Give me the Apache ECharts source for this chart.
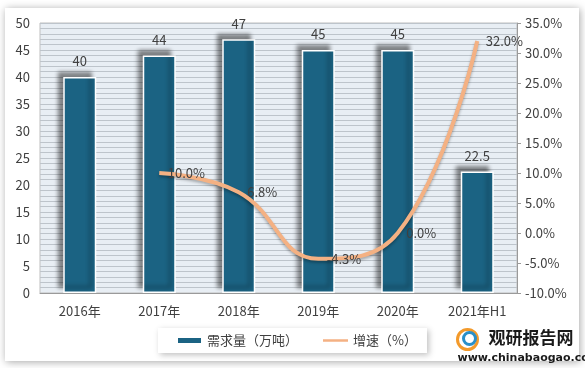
<!DOCTYPE html>
<html>
<head>
<meta charset="utf-8">
<script src="https://cdn.jsdelivr.net/npm/echarts@6/dist/echarts.min.js"></script>
<style>
html,body{margin:0;padding:0;background:#ffffff;}
#c{width:585px;height:368px;}
</style>
</head>
<body>
<div id="c"></div>
<script>
var categories = ['2016年','2017年','2018年','2019年','2020年','2021年H1'];
var demand = [40, 44, 47, 45, 45, 22.5];
var growth = [null, 10.0, 6.8, -4.3, 0.0, 32.0];
var leftTicks = {min: 0, max: 50, interval: 5};
var rightTicks = {min: -10, max: 35, interval: 5};

var chart = echarts.init(document.getElementById('c'));
var font = '"Microsoft YaHei","Noto Sans CJK SC",sans-serif';
chart.setOption({
  animation: false,
  textStyle: {fontFamily: font},
  graphic: [
    {type: 'rect', z: -10, shape: {x: 5, y: 8, width: 574, height: 353},
     style: {fill: '#ffffff', shadowBlur: 8, shadowColor: 'rgba(0,0,0,0.35)', shadowOffsetX: 1, shadowOffsetY: 1}},
    {type: 'group', left: 455, top: 327, children: [
      {type: 'circle', shape: {cx: 11, cy: 11, r: 10}, style: {fill: 'none', stroke: '#F39A2B', lineWidth: 3}},
      {type: 'circle', shape: {cx: 13, cy: 10, r: 6}, style: {fill: 'none', stroke: '#2A8FC8', lineWidth: 3}},
      {type: 'text', left: 32, top: 1, style: {text: '观研报告网', font: 'bold 17px "Noto Sans CJK SC"', fill: '#1a1a1a'}},
      {type: 'text', left: 1, top: 24, style: {text: 'www.chinabaogao.com', font: 'bold 11px "DejaVu Sans", sans-serif', fill: '#1a1a1a'}}
    ]}
  ],
  legend: {
    left: 158, top: 328, width: 250,
    padding: [6, 10, 6, 18],
    itemGap: 25,
    backgroundColor: '#ffffff',
    shadowBlur: 6, shadowColor: 'rgba(0,0,0,0.25)', shadowOffsetX: 2, shadowOffsetY: 2,
    textStyle: {fontSize: 13, color: '#404040'},
    data: [
      {name: '需求量（万吨）', icon: 'rect', itemStyle: {color: '#1B6383'}},
      {name: '增速（%）', icon: 'path://M0,4 L30,4 L30,7 L0,7 Z', itemStyle: {color: '#F4B183'}}
    ],
    itemWidth: 25, itemHeight: 7
  },
  grid: {left: 40, right: 68, top: 23, bottom: 75, show: true, backgroundColor: '#E8EEF4', borderColor: '#BFBFBF', borderWidth: 1, containLabel: false},
  xAxis: {
    type: 'category', data: categories,
    axisLine: {lineStyle: {color: '#9A9A9A'}},
    axisTick: {show: false},
    axisLabel: {color: '#404040', fontSize: 13, margin: 12}
  },
  yAxis: [
    {type: 'value', min: leftTicks.min, max: leftTicks.max, interval: leftTicks.interval, position: 'left',
     axisLine: {show: false}, axisTick: {show: false}, splitLine: {show: false},
     axisLabel: {color: '#404040', fontSize: 13, margin: 10}},
    {type: 'value', min: rightTicks.min, max: rightTicks.max, interval: rightTicks.interval, position: 'right',
     axisLine: {show: true, lineStyle: {color: '#9A9A9A'}},
     axisTick: {show: true, length: 4, lineStyle: {color: '#9A9A9A'}},
     splitLine: {show: false},
     axisLabel: {color: '#404040', fontSize: 13, margin: 8, formatter: function (v) { return v.toFixed(1) + '%'; }}},
    {type: 'value', min: 0, max: 50, interval: 1, position: 'left', z: 0,
     axisLine: {show: false}, axisTick: {show: false}, axisLabel: {show: false},
     splitLine: {show: true, lineStyle: {color: '#BDC4CB', width: 1}}}
  ],
  series: [
    {
      name: '需求量（万吨）', type: 'bar', data: demand, yAxisIndex: 0, barWidth: 33, z: 2,
      itemStyle: {color: '#1B6383', borderColor: '#ffffff', borderWidth: 1.5,
        shadowBlur: 4, shadowColor: 'rgba(0,0,0,0.45)', shadowOffsetX: -5, shadowOffsetY: -5},
      label: {show: true, position: 'top', distance: 9, color: '#404040', fontSize: 13}
    },
    {
      name: '增速（%）', type: 'line', data: growth, yAxisIndex: 1, smooth: 0.45, z: 3,
      symbol: 'circle', symbolSize: 1, showSymbol: true, connectNulls: false,
      lineStyle: {color: '#F4B183', width: 4, shadowBlur: 3, shadowColor: 'rgba(0,0,0,0.3)', shadowOffsetY: 2},
      itemStyle: {color: 'rgba(0,0,0,0)'},
      label: {show: true, position: 'right', distance: 8, color: '#404040', fontSize: 13,
        formatter: function (p) { return p.value.toFixed(1) + '%'; }}
    }
  ]
});
</script>
</body>
</html>
